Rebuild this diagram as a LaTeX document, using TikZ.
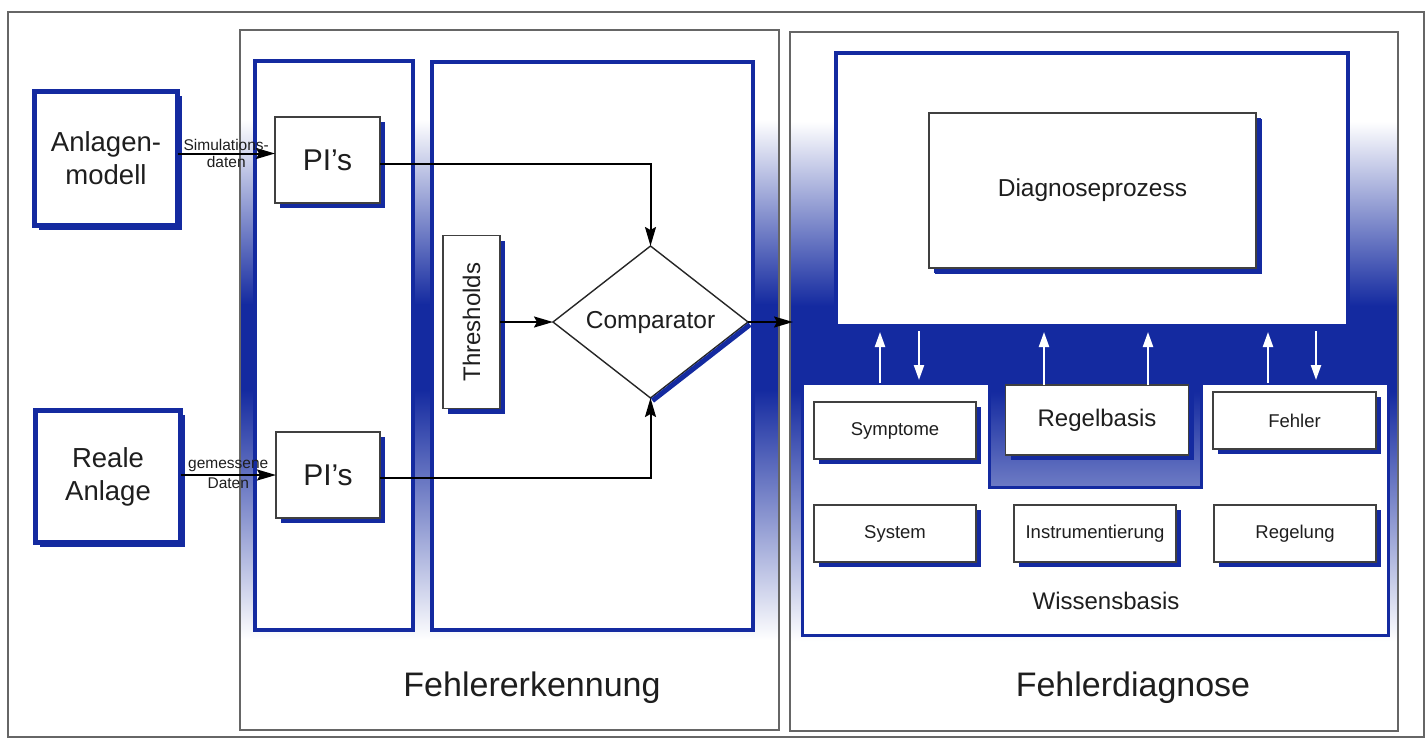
\documentclass[tikz,border=0pt]{standalone}
\usepackage{fontspec}
\setmainfont{Liberation Sans}
\usepackage{graphicx}
\usetikzlibrary{arrows.meta,shapes.geometric,shadows,calc}
\definecolor{dblue}{RGB}{20,42,160}
\definecolor{txt}{RGB}{30,30,30}
\pgfdeclareverticalshading{panelgrad}{100bp}{color(0bp)=(white); color(31.4bp)=(white); color(49.3bp)=(dblue); color(55.4bp)=(dblue); color(68.6bp)=(white); color(100bp)=(white)}
\newcommand{\myfs}[2]{\fontsize{#1pt}{#2pt}\selectfont}
\begin{document}
\begin{tikzpicture}[x=1pt,y=-1pt,
 every node/.style={inner sep=0pt,outer sep=0pt,text=txt},
 panel/.style={draw=black!60,line width=1.2pt,shade,shading=panelgrad},
 column/.style={draw=dblue,line width=4pt,fill=white},
 bigbox/.style={draw=dblue,line width=5pt,fill=white,align=center,font=\myfs{27.5}{33},
   drop shadow={shadow xshift=4pt,shadow yshift=-4pt,fill=dblue,opacity=1}},
 sbox/.style={draw=black!75,line width=1.4pt,fill=white,
   drop shadow={shadow xshift=5pt,shadow yshift=-5pt,fill=dblue,opacity=1}},
 arr/.style={draw=black,line width=2pt,-{Stealth[length=19pt,width=11pt,inset=3pt]}},
 warr/.style={draw=white,line width=2.2pt,-{Triangle[length=15pt,width=10pt]}},
 lbl/.style={font=\myfs{15.5}{17},inner sep=3pt},
 title/.style={font=\myfs{34}{38}},
]
\useasboundingbox (0,0) rectangle (1428,740);
\draw[black!60,line width=1.2pt] (8,12) rectangle (1424,737);

% panels
\node[panel,minimum width=539pt,minimum height=700pt] (p1) at (509.5,380) {};
\node[panel,minimum width=608pt,minimum height=699pt] (p2) at (1094,381.5) {};

% Fehlererkennung
\node[column,minimum width=158pt,minimum height=569pt] (c1) at (334,345.5) {};
\node[column,minimum width=321pt,minimum height=568pt] (c2) at (592.5,346) {};

\node[bigbox,minimum width=143pt,minimum height=134pt] (anl) at (106,158.5) {Anlagen-\\modell};
\node[bigbox,minimum width=145pt,minimum height=132pt] (real) at (108,476.5) {Reale\\Anlage};

\node[sbox,minimum width=105pt,minimum height=86pt,font=\myfs{30}{32}] (pi1) at (327.5,160) {PI’s};
\node[sbox,minimum width=104pt,minimum height=86pt,font=\myfs{30}{32}] (pi2) at (328,475) {PI’s};

\node[sbox,minimum width=57pt,minimum height=173pt,font=\myfs{24}{26}] (thr) at (471.5,322) {\rotatebox{90}{Thresholds}};

\node[diamond,draw=black!85,line width=1.4pt,fill=white,minimum width=195pt,minimum height=152pt,font=\myfs{24.5}{26}] (cmp) at (650.5,322) {Comparator};
\draw[dblue,line width=5pt] ([shift={(2pt,-2.6pt)}]cmp.east) -- ([shift={(2pt,-2.6pt)}]cmp.south);

\draw[arr] ([yshift=5pt]anl.east) -- ([yshift=5pt]anl.east -| pi1.west)
  node[lbl,midway,above] {Simulations-} node[lbl,midway,below] {daten};
\draw[arr] (real.east |- pi2.west) -- (pi2.west)
  node[lbl,midway,above] {gemessene} node[lbl,midway,below] {Daten};

\draw[arr] ([yshift=-4pt]pi1.east) -| (cmp.north);
\draw[arr] ([yshift=-3pt]pi2.east) -| (cmp.south);
\draw[arr] (thr.east) -- (cmp.west);
\draw[arr] (cmp.east) -- ([xshift=3pt]cmp.east -| p2.west);

\node[title] (t1) at (532,688) {Fehlererkennung};

% Fehlerdiagnose
\node[draw=dblue,line width=3.5pt,fill=white,minimum width=512pt,minimum height=273pt] (diag) at (1092,189.5) {};
\node[sbox,minimum width=327pt,minimum height=155pt,font=\myfs{24.5}{26},
  drop shadow={shadow xshift=6pt,shadow yshift=-6pt,fill=dblue,opacity=1}] (dp) at (1092.5,190.5) {Diagnoseprozess};

\draw[draw=dblue,line width=3pt,fill=white,line join=miter]
  (802,383) -- (989,383) -- (989,487) -- (1201,487) -- (1201,383) -- (1388,383) -- (1388,635) -- (802,635) -- cycle;
\coordinate (wbtop) at (802,383);

\node[sbox,minimum width=162pt,minimum height=57pt,font=\myfs{18.5}{20}] (sym) at (895,430.5) {Symptome};
\node[sbox,minimum width=183pt,minimum height=70pt,font=\myfs{24}{26}] (rb) at (1097,420) {Regelbasis};
\node[sbox,minimum width=163pt,minimum height=57pt,font=\myfs{18.5}{20}] (feh) at (1294.5,420.5) {Fehler};
\node[sbox,minimum width=162pt,minimum height=57pt,font=\myfs{18.5}{20}] (sys) at (895,533.5) {System};
\node[sbox,minimum width=162pt,minimum height=57pt,font=\myfs{18.5}{20}] (ins) at (1095,533.5) {Instrumentierung};
\node[sbox,minimum width=162pt,minimum height=57pt,font=\myfs{18.5}{20}] (reg) at (1295,533.5) {Regelung};
\node[font=\myfs{24}{26}] (wb) at (1106,601) {Wissensbasis};

\draw[warr,shorten >=6pt] (880,0 |- wbtop) -- (880,0 |- diag.south);
\draw[warr,shorten <=5pt,shorten >=3pt] (919,0 |- diag.south) -- (919,0 |- wbtop);
\draw[warr,shorten >=6pt] (1044,0 |- rb.north) -- (1044,0 |- diag.south);
\draw[warr,shorten >=6pt] (1148,0 |- rb.north) -- (1148,0 |- diag.south);
\draw[warr,shorten >=6pt] (1268,0 |- wbtop) -- (1268,0 |- diag.south);
\draw[warr,shorten <=5pt,shorten >=3pt] (1316,0 |- diag.south) -- (1316,0 |- wbtop);

\node[title] (t2) at (1133,688) {Fehlerdiagnose};
\end{tikzpicture}
\end{document}
